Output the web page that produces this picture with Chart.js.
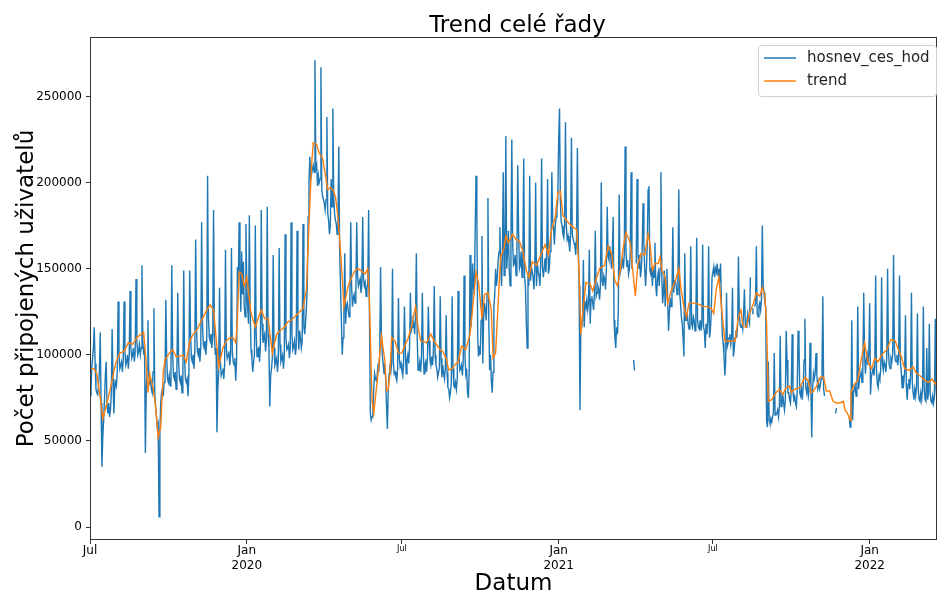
<!DOCTYPE html>
<html>
<head>
<meta charset="utf-8">
<script src="https://cdn.jsdelivr.net/npm/chart.js@4.4.0/dist/chart.umd.min.js"></script>
<style>
  html, body { margin: 0; padding: 0; background: #fff; }
  #wrap { width: 938px; height: 593px; }
</style>
</head>
<body>
<div id="wrap"><canvas id="trendChart" width="938" height="593"></canvas></div>
<script>
// daily connected users (thousands), day 0 = 1 Jul 2019
// first row = days 0-4, then one row per week starting on the weekly peak day
const usersK = [
  79, 76, 92, 98, 104,
  116, 95, 80, 78, 77, 82, 90,
  113, 72, 35, 52, 62, 74, 88,
  96, 70, 66, 72, 64, 68, 78,
  115, 86, 66, 80, 84, 82, 90,
  131, 100, 92, 94, 96, 90, 97,
  131, 102, 94, 96, 100, 92, 99,
  137, 104, 98, 100, 104, 96, 101,
  144, 108, 100, 102, 106, 100, 104,
  152, 108, 100, 104, 43, 80, 92,
  120, 88, 84, 86, 80, 78, 90,
  127, 78, 70, 64, 58, 60, 6,
  55, 72, 78, 80, 76, 84, 86,
  132, 98, 86, 84, 88, 82, 90,
  152, 100, 88, 86, 90, 80, 92,
  136, 96, 86, 84, 88, 78, 90,
  149, 98, 86, 84, 86, 76, 88,
  149, 112, 98, 96, 100, 92, 102,
  167, 115, 102, 100, 104, 96, 104,
  177, 118, 106, 104, 108, 100, 108,
  204, 122, 110, 108, 112, 104, 110,
  184, 112, 100, 104, 55, 80, 90,
  139, 96, 88, 90, 92, 86, 94,
  161, 104, 98, 100, 102, 94, 100,
  162, 102, 96, 94, 98, 85, 96,
  151, 140, 177, 150, 125, 160, 135,
  154, 128, 122, 176, 140, 128, 118,
  181, 125, 103, 98, 90, 96, 100,
  175, 112, 99, 103, 104, 96, 106,
  184, 118, 107, 110, 112, 102, 108,
  186, 112, 104, 70, 88, 92, 98,
  158, 104, 94, 96, 98, 90, 97,
  162, 106, 96, 98, 100, 92, 99,
  170, 110, 103, 104, 106, 98, 104,
  177, 112, 103, 105, 108, 100, 104,
  172, 116, 103, 114, 110, 104, 108,
  176, 116, 112, 119, 128, 140, 180,
  200, 215, 202, 205, 208, 210, 206,
  271, 208, 210, 198, 204, 200, 202,
  267, 196, 192, 190, 188, 184, 190,
  238, 182, 178, 170, 175, 202, 186,
  243, 192, 182, 178, 176, 170, 180,
  221, 160, 140, 120, 100, 110, 124,
  159, 118, 128, 130, 126, 122, 132,
  177, 140, 128, 133, 135, 130, 136,
  177, 146, 140, 142, 144, 136, 140,
  180, 144, 140, 142, 134, 138, 142,
  184, 120, 66, 62, 64, 68, 80,
  89, 86, 85, 88, 95, 90, 100,
  151, 112, 101, 95, 89, 92, 86,
  70, 57, 80, 89, 92, 90, 95,
  150, 96, 89, 90, 87, 85, 92,
  133, 98, 93, 95, 91, 88, 94,
  128, 104, 89, 97, 100, 95, 104,
  136, 114, 116, 120, 118, 112, 122,
  159, 110, 91, 92, 96, 90, 98,
  136, 104, 89, 94, 96, 90, 98,
  128, 108, 97, 94, 99, 94, 102,
  140, 100, 94, 92, 87, 90, 92,
  134, 98, 87, 94, 89, 86, 92,
  123, 90, 81, 80, 75, 78, 84,
  134, 92, 82, 81, 84, 80, 86,
  137, 100, 91, 92, 94, 88, 96,
  146, 100, 89, 92, 78, 75, 90,
  158, 116, 125, 153, 140, 135, 170,
  204, 182, 110, 99, 105, 100, 120,
  169, 95, 122, 130, 126, 120, 135,
  191, 120, 91, 100, 85, 78, 90,
  128, 135, 150, 140, 145, 155, 160,
  174, 150, 140, 160, 206, 146, 150,
  227, 150, 160, 172, 150, 140, 165,
  225, 165, 152, 153, 158, 146, 160,
  210, 171, 150, 152, 160, 145, 158,
  214, 145, 140, 120, 104, 147, 140,
  204, 143, 151, 148, 145, 138, 150,
  200, 140, 153, 148, 146, 140, 155,
  214, 151, 145, 150, 156, 148, 160,
  202, 147, 150, 160, 165, 206, 178,
  174, 164, 175, 180, 185, 190, 225,
  243, 190, 177, 175, 170, 168, 175,
  235, 175, 167, 169, 165, 160, 170,
  226, 170, 167, 165, 163, 158, 168,
  220, 167, 140, 68, 114, 116, 120,
  155, 116, 130, 128, 132, 126, 130,
  161, 118, 132, 134, 130, 126, 136,
  172, 134, 136, 140, 138, 132, 140,
  200, 143, 140, 146, 144, 138, 150,
  186, 157, 155, 163, 158, 150, 160,
  180, 120, 110, 104, 116, 112, 125,
  193, 147, 147, 152, 155, 150, 158,
  221, 160, 151, 155, 147, 150, 158,
  206, 150, null, 97, 91, null, 153,
  202, 160, 150, 158, 145, 150, 160,
  188, 165, 150, 140, 150, 165, 196,
  198, 149, 147, 151, 140, 150, 145,
  165, 140, 134, 145, 148, 140, 150,
  206, 147, 130, 136, 149, 128, 140,
  150, 130, 114, 125, 133, 128, 135,
  174, 136, 143, 143, 140, 135, 145,
  196, 136, 130, 122, 118, 110, 99,
  159, 120, 120, 124, 118, 115, 122,
  163, 118, 116, 122, 120, 114, 120,
  168, 120, 116, 115, 120, 114, 118,
  164, 116, 114, 104, 118, 112, 120,
  163, 110, 114, 124, 145, 145, 151,
  145, 150, 148, 153, 146, 150, 142,
  153, 130, 112, 107, 100, 88, 96,
  136, 105, 107, 110, 112, 106, 110,
  139, 99, 103, 110, 114, 110, 118,
  157, 124, 117, 116, 118, 115, 124,
  138, 118, 116, 120, 124, 120, 118,
  145, null, 124, 127, null, 128, 130,
  163, 124, 122, 128, 130, 126, 132,
  175, 140, 136, 130, 128, 62, 58,
  96, 62, 60, 63, 61, 64, 66,
  101, 65, 66, 66, 68, 64, 70,
  111, 70, 71, 77, 72, 68, 74,
  114, 97, 78, 78, 74, 72, 80,
  112, 78, 74, 76, 72, 70, 80,
  114, 107, 78, 76, 80, 74, 82,
  97, 121, 81, 78, 82, 76, 80,
  107, 80, 52, 80, 89, 86, 89,
  101, 89, 81, 84, 80, 82, 86,
  88, 134, 80, 76, null, null, null,
  null, null, null, null, null, null, null,
  null, null, 66, 69, null, null, null,
  null, null, 72, 73, null, null, null,
  null, null, null, null, 64, 58, 62,
  120, 62, 78, 80, 82, 76, 80,
  128, 80, 86, 88, 90, 84, 92,
  136, 100, 89, 97, 100, 94, 102,
  130, 77, 87, 90, 92, 88, 94,
  146, 90, 83, 81, 88, 86, 92,
  145, 95, 91, 96, 94, 90, 98,
  150, 102, 94, 92, 98, 96, 100,
  158, 104, 97, 96, 100, 94, 100,
  146, 96, 91, 81, 88, 84, 90,
  123, 82, 74, 83, 86, 80, 88,
  136, 84, 78, 74, 80, 76, 82,
  124, 80, 74, 73, 78, 74, 80,
  128, 80, 74, 73, 104, 74, 78,
  118, 78, 73, 72, 76, 72, 76,
  121, 80, 74
];

// trend line, read at these days (thousands)
const trendDays = [
  0, 5, 8, 12, 15, 20, 25, 30, 35, 40, 45, 50, 55, 60, 63, 66, 68, 70, 74, 77,
  80, 83, 86, 88, 93, 97, 101, 105, 109, 113, 117, 121, 125, 129, 133, 137, 141, 145, 148, 151,
  156, 160, 164, 168, 171, 173, 175, 178, 181, 184, 189, 194, 198, 201, 205, 209, 214, 219, 223, 228,
  232, 236, 240, 246, 250, 254, 257, 260, 262, 266, 269, 273, 276, 279, 282, 285, 288, 291, 293, 296,
  298, 300, 303, 307, 311, 315, 320, 323, 326, 328, 331, 333, 336, 338, 342, 346, 348, 350, 352, 354,
  358, 362, 366, 369, 373, 377, 382, 385, 388, 395, 400, 405, 411, 414, 418, 421, 425, 428, 432, 436,
  441, 446, 450, 453, 456, 460, 463, 467, 471, 473, 476, 479, 482, 486, 488, 491, 496, 500, 504, 508,
  512, 515, 519, 524, 529, 534, 538, 541, 546, 549, 552, 555, 559, 563, 567, 571, 574, 576, 579, 582,
  587, 590, 594, 598, 604, 608, 612, 616, 619, 622, 626, 629, 634, 637, 640, 643, 647, 651, 655, 657,
  660, 663, 667, 669, 671, 675, 678, 682, 687, 691, 694, 697, 700, 703, 710, 716, 719, 725, 729, 732,
  735, 738, 741, 745, 751, 757, 761, 764, 766, 770, 774, 778, 782, 786, 789, 792, 794, 796, 800, 805,
  809, 813, 817, 821, 823, 827, 833, 839, 843, 846, 849, 853, 857, 861, 864, 868, 872, 876, 880, 884,
  886, 890, 892, 893, 897, 901, 905, 909, 913, 917, 921, 925, 929, 935, 940, 945, 948, 952, 956, 962,
  966, 970, 974, 980, 984, 988, 992, 994
];
const trendK = [
  92, 92, 89, 75, 63, 72, 83, 95, 101, 102, 107, 106, 110, 112, 113, 95, 78, 89, 81, 70,
  52, 58, 90, 97, 101, 103, 99, 99, 100, 96, 108, 112, 114, 118, 122, 126, 129, 126, 110, 93,
  104, 108, 110, 110, 107, 120, 148, 147, 140, 145, 124, 116, 122, 126, 121, 121, 101, 112, 114, 116,
  119, 120, 122, 125, 127, 138, 176, 210, 223, 222, 217, 214, 205, 196, 197, 196, 192, 180, 167, 145,
  128, 133, 140, 145, 149, 150, 148, 147, 150, 130, 73, 66, 80, 89, 111, 97, 79, 80, 89, 110,
  108, 101, 101, 105, 109, 116, 128, 116, 108, 107, 112, 107, 103, 102, 98, 91, 92, 94, 96, 105,
  103, 112, 132, 148, 142, 121, 135, 136, 126, 98, 101, 130, 157, 162, 169, 165, 170, 167, 166, 160,
  149, 145, 154, 152, 158, 164, 158, 171, 180, 194, 195, 181, 178, 176, 174, 173, 148, 112, 128, 142,
  141, 137, 144, 150, 152, 163, 159, 143, 140, 148, 163, 171, 165, 149, 134, 153, 159, 158, 170, 165,
  149, 153, 153, 157, 149, 145, 130, 137, 143, 150, 137, 128, 122, 130, 130, 129, 128, 128, 127, 124,
  138, 145, 128, 108, 108, 108, 122, 126, 117, 116, 124, 129, 136, 134, 139, 134, 118, 73, 74, 78,
  80, 77, 81, 82, 78, 80, 81, 87, 85, 78, 79, 82, 87, 87, 79, 79, 73, 72, 72, 73,
  68, 65, 62, 78, 83, 85, 97, 107, 96, 92, 98, 96, 100, 103, 109, 108, 104, 99, 92, 91,
  93, 89, 88, 85, 84, 86, 83, 85
];

const xTickDays = [0, 184, 366, 550, 731, 915];
const xTickLabels = ["Jul", ["Jan", "2020"], "Jul", ["Jan", "2021"], "Jul", ["Jan", "2022"]];
const xTickMajor = [true, true, false, true, false, true];
const yTickValues = [0, 50000, 100000, 150000, 200000, 250000];

const FONT = "DejaVu Sans";

let userPoints = usersK.map((v, i) => ({ x: i, y: v === null ? null : v * 1000 }));
let trendPoints = trendDays.map((d, i) => ({ x: d, y: trendK[i] * 1000 }));

// frame, title and legend drawn like matplotlib
const frameAndLegend = {
  id: "frameAndLegend",
  afterDraw(chart) {
    const { ctx, chartArea: a } = chart;
    ctx.save();
    ctx.strokeStyle = "#333";
    ctx.lineWidth = 1;
    ctx.strokeRect(a.left + 0.5, a.top + 0.5, a.right - a.left - 1, a.bottom - a.top - 1);

    ctx.fillStyle = "#000";
    ctx.font = "23px '" + FONT + "'";
    ctx.textAlign = "center";
    ctx.textBaseline = "middle";
    ctx.fillText("Trend celé řady", (a.left + a.right) / 2 + 4, 26);

    // legend box
    let bx = a.right - 179, by = a.top + 8, bw = 178, bh = 51;
    ctx.beginPath();
    ctx.roundRect(bx + 0.5, by + 0.5, bw, bh, 3);
    ctx.fillStyle = "rgba(255,255,255,0.8)";
    ctx.fill();
    ctx.strokeStyle = "#d0d0d0";
    ctx.stroke();
    let items = [["hosnev_ces_hod", "#1f77b4"], ["trend", "#ff7f0e"]];
    ctx.font = "15px '" + FONT + "'";
    ctx.textAlign = "left";
    items.forEach((it, i) => {
      let ly = by + 13 + i * 23;
      ctx.strokeStyle = it[1];
      ctx.lineWidth = 1.5;
      ctx.beginPath();
      ctx.moveTo(bx + 6, ly);
      ctx.lineTo(bx + 38, ly);
      ctx.stroke();
      ctx.fillStyle = "#222";
      ctx.fillText(it[0], bx + 49, ly);
    });
    ctx.restore();
  }
};

let ctx = document.getElementById("trendChart").getContext("2d");
new Chart(ctx, {
  type: "line",
  data: {
    datasets: [
      {
        label: "hosnev_ces_hod",
        data: userPoints,
        borderColor: "#1f77b4",
        borderWidth: 1.4,
        pointRadius: 0,
        order: 1,
      },
      {
        label: "trend",
        data: trendPoints,
        borderColor: "#ff7f0e",
        borderWidth: 1.4,
        pointRadius: 0,
        order: 0,
      },
    ],
  },
  options: {
    responsive: false,
    animation: false,
    devicePixelRatio: 1,
    layout: { padding: { top: 37, right: 1, bottom: 0, left: 0 } },
    plugins: {
      legend: { display: false },
      title: { display: false },
      tooltip: { enabled: false },
    },
    scales: {
      x: {
        type: "linear",
        min: 0,
        max: 994,
        afterBuildTicks: (s) => { s.ticks = xTickDays.map((v) => ({ value: v })); },
        afterFit: (s) => { s.height = 53; },
        grid: { drawOnChartArea: false, drawTicks: true, tickLength: 4, color: "#333" },
        border: { display: false },
        ticks: {
          autoSkip: false,
          maxRotation: 0,
          padding: 0,
          color: "#000",
          font: (c) => ({ family: FONT, size: xTickMajor[c.index] ? 12 : 8 }),
          callback: (v, i) => xTickLabels[i],
        },
        title: {
          display: true,
          text: "Datum",
          color: "#000",
          font: { family: FONT, size: 23, lineHeight: 1 },
          padding: { top: 0, bottom: -3 },
        },
      },
      y: {
        min: -7500,
        max: 284500,
        afterBuildTicks: (s) => { s.ticks = yTickValues.map((v) => ({ value: v })); },
        afterFit: (s) => { s.width = 90; },
        grid: { drawOnChartArea: false, drawTicks: true, tickLength: 4, color: "#333" },
        border: { display: false },
        ticks: {
          padding: 4,
          color: "#000",
          font: { family: FONT, size: 12 },
          callback: (v) => String(v),
        },
        title: {
          display: true,
          text: "Počet připojených uživatelů",
          color: "#000",
          font: { family: FONT, size: 23, lineHeight: 1 },
          padding: { top: 16, bottom: 0 },
        },
      },
    },
  },
  plugins: [frameAndLegend],
});
</script>
</body>
</html>
